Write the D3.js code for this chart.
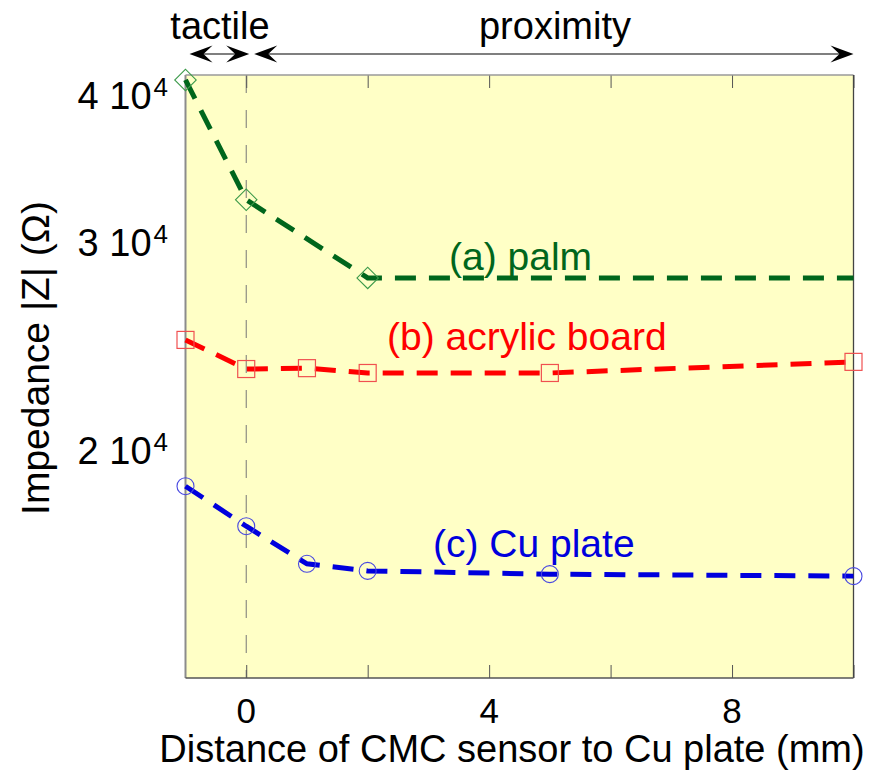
<!DOCTYPE html>
<html>
<head>
<meta charset="utf-8">
<script src="https://cdn.jsdelivr.net/npm/d3@7/dist/d3.min.js"></script>
<style>
  html, body { margin: 0; padding: 0; background: #ffffff; }
  svg { display: block; font-family: "Liberation Sans", Arial, sans-serif; }
</style>
</head>
<body>
<svg id="chart" width="888" height="773"></svg>
<script>
// Distance from the CMC sensor to the Cu plate (mm)
const palmX = [-1, 0, 2];
const palmZ = [41190, 32600, 27990];
const palmFitX = [-1, 0, 2, 10];
const palmFitZ = [41190, 32600, 27990, 27990];

const acrylicX = [-1, 0, 1, 2, 5, 10];
const acrylicZ = [24800, 23430, 23470, 23250, 23250, 23760];

const cuX = [-1, 0, 1, 2, 5, 10];
const cuZ = [18640, 17240, 16020, 15800, 15700, 15640];

const xTicks = [0, 2, 4, 6, 8, 10];
const xTickLabels = [0, 4, 8];
const yTickValues = [20000, 30000, 40000];
const yTickMantissa = ["2", "3", "4"];

const xDomain = [-1, 10];
const yDomain = [12820, 41590];

const svg = d3.select("#chart");
const plot = { left: 185.5, right: 853.5, top: 75, bottom: 678 };

const x = d3.scaleLinear().domain(xDomain).range([plot.left, plot.right]);
const y = d3.scaleLog().domain(yDomain).range([plot.bottom, plot.top]);

// plot background
svg.append("rect")
  .attr("x", plot.left).attr("y", plot.top)
  .attr("width", plot.right - plot.left).attr("height", plot.bottom - plot.top)
  .attr("fill", "#ffffc6");

// boundary between tactile and proximity regions
svg.append("line")
  .attr("x1", x(0)).attr("x2", x(0))
  .attr("y1", plot.top).attr("y2", plot.bottom)
  .attr("stroke", "#777").attr("stroke-width", 1)
  .attr("stroke-dasharray", "18,17");

// x ticks, bottom and top, pointing inward
const tickLen = 13;
const axisBottom = d3.axisBottom(x).tickValues(xTicks).tickSize(-tickLen).tickFormat("");
const gB = svg.append("g").attr("transform", `translate(0,${plot.bottom})`).call(axisBottom);
const axisTop = d3.axisTop(x).tickValues(xTicks).tickSize(-tickLen).tickFormat("");
const gT = svg.append("g").attr("transform", `translate(0,${plot.top})`).call(axisTop);
[gB, gT].forEach(g => {
  g.select(".domain").remove();
  g.selectAll(".tick line").attr("stroke", "#555").attr("stroke-width", 1);
});

// x tick labels
svg.append("g").selectAll("text").data(xTickLabels).join("text")
  .attr("x", d => x(d)).attr("y", 723)
  .attr("text-anchor", "middle")
  .attr("font-size", 35).attr("fill", "#000")
  .text(d => d);

// y tick labels in "m 10^4" form
const yl = svg.append("g").selectAll("text").data(yTickValues).join("text")
  .attr("x", 168).attr("y", d => y(d)).attr("dy", "0.36em")
  .attr("text-anchor", "end")
  .attr("font-size", 38).attr("fill", "#000");
yl.append("tspan").text((d, i) => yTickMantissa[i] + " 10");
yl.append("tspan").attr("font-size", 26).attr("dy", -13).attr("dx", 2).text("4");

// frame
svg.append("line").attr("x1", plot.left).attr("x2", plot.left).attr("y1", plot.top).attr("y2", plot.bottom)
  .attr("stroke", "#8c8c8c").attr("stroke-width", 2);
svg.append("line").attr("x1", plot.left).attr("x2", plot.right).attr("y1", plot.top).attr("y2", plot.top)
  .attr("stroke", "#9a9a9a").attr("stroke-width", 1.5);
svg.append("line").attr("x1", plot.right).attr("x2", plot.right).attr("y1", plot.top).attr("y2", plot.bottom)
  .attr("stroke", "#444").attr("stroke-width", 1.3);
svg.append("line").attr("x1", plot.left).attr("x2", plot.right).attr("y1", plot.bottom).attr("y2", plot.bottom)
  .attr("stroke", "#555").attr("stroke-width", 1.3);

// dashed curves joining the measurements
const line = d3.line().x(d => x(d[0])).y(d => y(d[1]));
const series = [
  { xs: palmFitX, zs: palmFitZ, color: "#00661c" },
  { xs: acrylicX, zs: acrylicZ, color: "#ff0000" },
  { xs: cuX, zs: cuZ, color: "#0000dd" }
];
series.forEach(s => {
  svg.append("path")
    .datum(s.xs.map((v, i) => [v, s.zs[i]]))
    .attr("d", line)
    .attr("fill", "none")
    .attr("stroke", s.color)
    .attr("stroke-width", 5)
    .attr("stroke-dasharray", "21,13");
});

// markers
const diamond = d3.symbol().type(d3.symbolSquare).size(230);
svg.append("g").selectAll("path").data(palmX.map((v, i) => [v, palmZ[i]])).join("path")
  .attr("d", diamond)
  .attr("transform", d => `translate(${x(d[0])},${y(d[1])}) rotate(45)`)
  .attr("fill", "none").attr("stroke", "#3c9a4a").attr("stroke-width", 1.1);

svg.append("g").selectAll("rect").data(acrylicX.map((v, i) => [v, acrylicZ[i]])).join("rect")
  .attr("x", d => x(d[0]) - 8.5).attr("y", d => y(d[1]) - 8.5)
  .attr("width", 17).attr("height", 17)
  .attr("fill", "none").attr("stroke", "#f05050").attr("stroke-width", 1.2);

svg.append("g").selectAll("circle").data(cuX.map((v, i) => [v, cuZ[i]])).join("circle")
  .attr("cx", d => x(d[0])).attr("cy", d => y(d[1])).attr("r", 8.5)
  .attr("fill", "none").attr("stroke", "#4848e0").attr("stroke-width", 1.1);

// curve labels
const labels = [
  { text: "(a) palm", color: "#00661c", px: 449, py: 270 },
  { text: "(b) acrylic board", color: "#ff0000", px: 387, py: 350 },
  { text: "(c) Cu plate", color: "#0000dd", px: 433, py: 557 }
];
svg.append("g").selectAll("text").data(labels).join("text")
  .attr("x", d => d.px).attr("y", d => d.py)
  .attr("font-size", 39).attr("fill", d => d.color)
  .text(d => d.text);

// region annotations with arrows
function arrowHead(g, tipX, tipY, dir) {
  const L = 23, W = 8.5, N = 14;
  const p = [[tipX, tipY], [tipX - dir * L, tipY - W], [tipX - dir * N, tipY], [tipX - dir * L, tipY + W]];
  g.append("path").attr("d", "M" + p.map(q => q.join(",")).join("L") + "Z").attr("fill", "#000");
}
const arrowY = 54;
const ann = svg.append("g");
[[x(-1) + 4, x(0) + 3], [x(0) + 8, x(10)]].forEach(([a, b]) => {
  ann.append("line").attr("x1", a + 5).attr("x2", b - 5).attr("y1", arrowY).attr("y2", arrowY)
    .attr("stroke", "#000").attr("stroke-width", 1.2);
  arrowHead(ann, a, arrowY, -1);
  arrowHead(ann, b, arrowY, 1);
});
ann.append("text").attr("x", 220).attr("y", 39).attr("text-anchor", "middle")
  .attr("font-size", 38).text("tactile");
ann.append("text").attr("x", 555).attr("y", 39).attr("text-anchor", "middle")
  .attr("font-size", 38).text("proximity");

// axis titles
svg.append("text").attr("x", 512).attr("y", 762).attr("text-anchor", "middle")
  .attr("font-size", 38).text("Distance of CMC sensor to Cu plate (mm)");
svg.append("text")
  .attr("transform", "translate(49,358) rotate(-90)")
  .attr("text-anchor", "middle").attr("font-size", 39)
  .text("Impedance |Z| (Ω)");
</script>
</body>
</html>
